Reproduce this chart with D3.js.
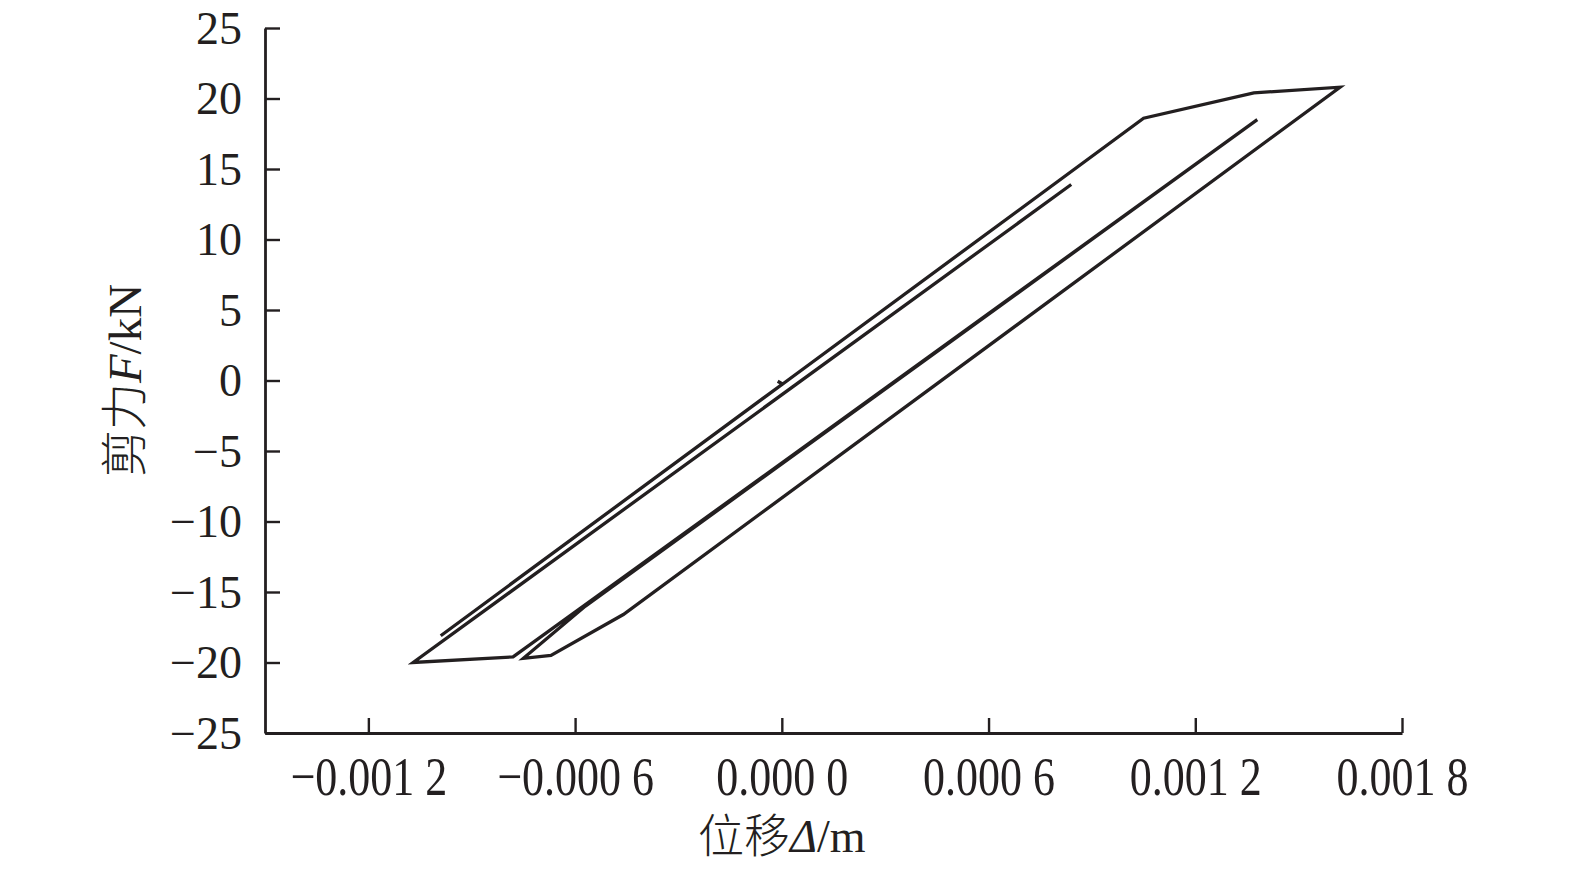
<!DOCTYPE html>
<html>
<head>
<meta charset="utf-8">
<script src="https://cdn.jsdelivr.net/npm/d3@7"></script>
<style>
  html, body { margin: 0; padding: 0; background: #fff; }
  svg { display: block; }
</style>
</head>
<body>
<svg id="chart" width="1575" height="871"></svg>
<script>
// ---- data ----
const displacement = [-0.000012, 0.000002, -0.00099, 0.00105, 0.00137, 0.00162, -0.00046, -0.00067, -0.00075, -0.00057, 0.00138, -0.00078, -0.00107, 0.00084];
const shearForce   = [-0.05,     -0.25,    -18.1,    18.6,    20.4,    20.8,    -16.6,    -19.5,    -19.7,    -16.0,    18.5,    -19.6,    -20.0,    13.9];
const xTickValues = [-0.0012, -0.0006, 0, 0.0006, 0.0012, 0.0018];
const xTickLabels = ["\u22120.001 2", "\u22120.000 6", "0.000 0", "0.000 6", "0.001 2", "0.001 8"];
const yTickValues = [25, 20, 15, 10, 5, 0, -5, -10, -15, -20, -25];
const yTickLabels = ["25", "20", "15", "10", "5", "0", "\u22125", "\u221210", "\u221215", "\u221220", "\u221225"];
const xTitle = ["位移", "Δ", "/m"];
const yTitle = ["剪力", "F", "/kN"];

// ---- layout ----
const ink = "#231f20";
const svg = d3.select("#chart");
const x = d3.scaleLinear().domain([-0.0015, 0.0018]).range([265, 1402]);
const y = d3.scaleLinear().domain([-25, 25]).range([733, 28]);

// x axis
const xAxis = d3.axisBottom(x)
  .tickValues(xTickValues)
  .tickFormat((d, i) => xTickLabels[i])
  .tickSizeInner(-15).tickSizeOuter(0);
const gx = svg.append("g").attr("transform", `translate(0,${y(-25)})`).call(xAxis);
gx.select(".domain").attr("stroke", ink).attr("stroke-width", 2.8);
gx.selectAll(".tick line").attr("stroke", ink).attr("stroke-width", 2.4);
gx.selectAll(".tick text")
  .attr("fill", ink)
  .attr("font-family", "'Liberation Serif', 'Times New Roman', serif")
  .attr("font-size", 55)
  .attr("y", 62).attr("dy", 0)
  .attr("transform", "scale(0.80,1)");

// y axis
const yAxis = d3.axisLeft(y)
  .tickValues(yTickValues)
  .tickFormat((d, i) => yTickLabels[i])
  .tickSizeInner(-15).tickSizeOuter(0).tickPadding(23);
const gy = svg.append("g").attr("transform", `translate(${x(-0.0015)},0)`).call(yAxis);
gy.select(".domain").attr("stroke", ink).attr("stroke-width", 2.8);
gy.selectAll(".tick line").attr("stroke", ink).attr("stroke-width", 2.4);
gy.selectAll(".tick text")
  .attr("fill", ink)
  .attr("font-family", "'Liberation Serif', 'Times New Roman', serif")
  .attr("font-size", 46)
  .attr("dy", "0.33em");

// curve
const pts = displacement.map((d, i) => [d, shearForce[i]]);
const line = d3.line().x(d => x(d[0])).y(d => y(d[1]));
svg.append("path")
  .datum(pts)
  .attr("d", line)
  .attr("fill", "none")
  .attr("stroke", ink)
  .attr("stroke-width", 3.3)
  .attr("stroke-linejoin", "miter");

// axis titles
const xt = svg.append("text")
  .attr("x", x(0)).attr("y", 852)
  .attr("text-anchor", "middle")
  .attr("fill", ink)
  .attr("font-size", 46)
  .attr("font-family", "'Liberation Serif', serif");
xt.append("tspan").attr("font-family", "'Noto Sans CJK SC', sans-serif").attr("font-weight", 300).text(xTitle[0]);
xt.append("tspan").attr("font-style", "italic").text(xTitle[1]);
xt.append("tspan").text(xTitle[2]);

const yt = svg.append("text")
  .attr("transform", `translate(141,${y(0)}) rotate(-90)`)
  .attr("text-anchor", "middle")
  .attr("fill", ink)
  .attr("font-size", 47)
  .attr("font-family", "'Liberation Serif', serif");
yt.append("tspan").attr("font-family", "'Noto Sans CJK SC', sans-serif").attr("font-weight", 300).text(yTitle[0]);
yt.append("tspan").attr("font-style", "italic").text(yTitle[1]);
yt.append("tspan").text(yTitle[2]);
</script>
</body>
</html>
